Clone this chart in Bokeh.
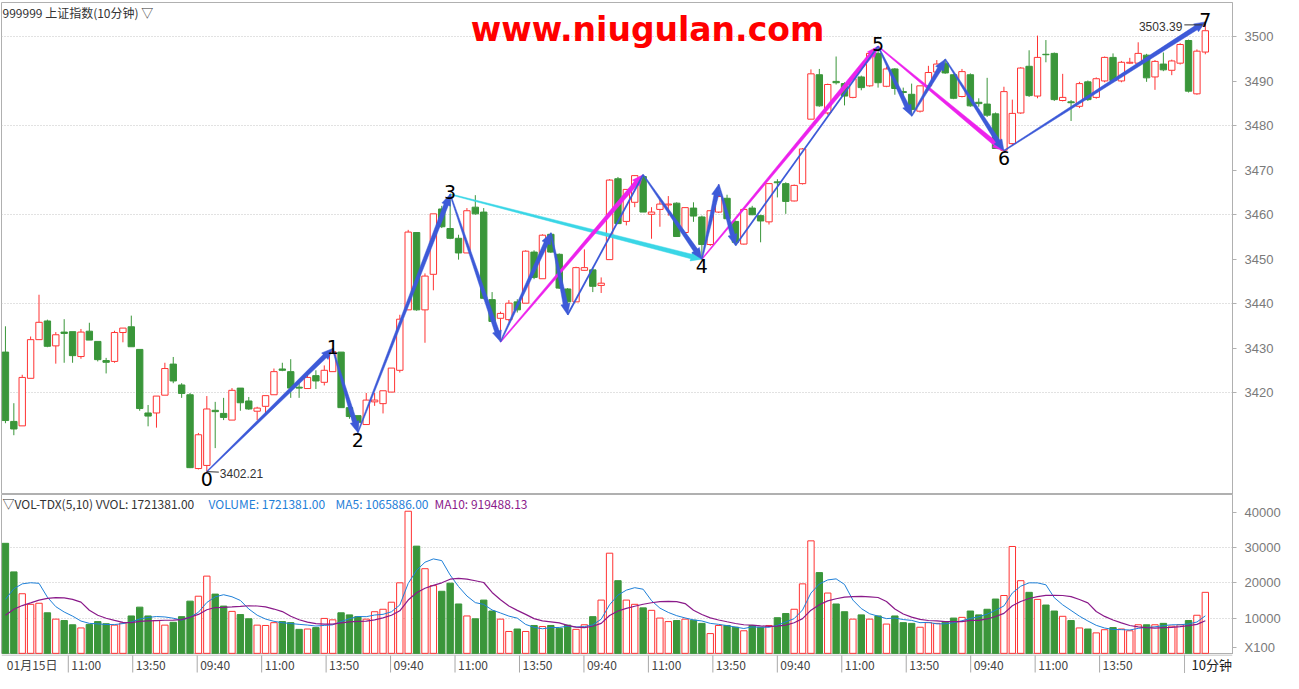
import math
import pandas as pd
from bokeh.plotting import figure
from bokeh.layouts import column
from bokeh.models import ColumnDataSource, FixedTicker, NumeralTickFormatter, Label, Range1d
from bokeh.core.properties import value
from bokeh.embed import file_html
from bokeh.resources import INLINE

# ---------------- data (10-minute bars, 6 sessions) ----------------
opens = [3429.1, 3413.5, 3412.5, 3423.2, 3431.9, 3436.1, 3430.5, 3433.6, 3433.7, 3428.1,
         3433.8, 3431.5, 3427.2, 3427.0, 3433.5, 3434.8, 3429.7, 3415.4, 3415.4, 3419.4,
         3426.4, 3421.7, 3419.5, 3402.9, 3403.6, 3416.0, 3415.3, 3413.8, 3421.0, 3418.1,
         3415.8, 3416.9, 3419.5, 3425.3, 3424.7, 3421.2, 3420.9, 3423.8, 3422.3, 3424.7,
         3429.1, 3416.6, 3414.8, 3412.8, 3417.9, 3417.5, 3420.1, 3425.0, 3438.6, 3456.0,
         3438.6, 3446.6, 3461.3, 3456.9, 3454.7, 3451.4, 3461.7, 3460.6, 3440.9, 3436.7,
         3436.4, 3440.4, 3440.1, 3451.6, 3445.6, 3455.6, 3451.1, 3443.3, 3440.4, 3447.5,
         3447.6, 3444.1, 3449.9, 3468.1, 3458.5, 3462.8, 3468.6, 3460.1, 3461.2, 3462.2,
         3462.6, 3456.0, 3461.5, 3459.5, 3453.3, 3460.6, 3463.7, 3458.5, 3453.4, 3461.5,
         3459.8, 3458.4, 3467.4, 3467.0, 3463.1, 3467.0, 3481.5, 3491.5, 3482.9, 3490.0,
         3489.5, 3486.4, 3491.0, 3489.0, 3496.3, 3488.9, 3492.8, 3487.7, 3487.1, 3483.3,
         3489.0, 3492.1, 3494.1, 3491.5, 3486.6, 3491.5, 3485.3, 3484.9, 3482.7, 3474.5,
         3476.0, 3482.9, 3493.4, 3486.7, 3496.1, 3496.3, 3485.7, 3485.4, 3484.4, 3489.9,
         3486.4, 3490.1, 3495.4, 3490.1, 3494.1, 3494.1, 3495.9, 3491.0, 3493.9, 3492.5,
         3494.1, 3499.2, 3487.2, 3496.6]
highs = [3434.9, 3417.6, 3424.0, 3432.6, 3442.0, 3436.4, 3433.6, 3436.5, 3433.7, 3434.3,
         3435.7, 3431.5, 3427.8, 3433.9, 3434.5, 3437.3, 3429.7, 3417.2, 3419.2, 3426.7,
         3428.0, 3422.1, 3419.9, 3410.9, 3419.2, 3417.9, 3418.8, 3421.0, 3421.0, 3419.0,
         3416.8, 3419.3, 3425.4, 3426.7, 3427.5, 3422.1, 3424.0, 3425.0, 3426.1, 3429.9,
         3429.1, 3416.6, 3414.8, 3419.9, 3419.9, 3420.4, 3425.5, 3437.5, 3456.6, 3456.0,
         3446.8, 3460.2, 3462.0, 3464.6, 3455.5, 3461.5, 3464.4, 3461.5, 3442.6, 3438.2,
         3440.8, 3441.0, 3452.0, 3452.0, 3455.6, 3455.9, 3451.3, 3443.5, 3448.3, 3452.2,
         3448.0, 3445.9, 3468.0, 3468.5, 3465.7, 3468.9, 3469.0, 3461.7, 3463.5, 3464.2,
         3462.8, 3461.7, 3462.8, 3459.8, 3461.0, 3466.8, 3464.5, 3458.7, 3461.4, 3462.0,
         3460.0, 3467.1, 3468.0, 3467.3, 3466.8, 3475.0, 3492.7, 3492.8, 3489.5, 3495.6,
         3489.8, 3491.5, 3491.3, 3496.5, 3497.9, 3493.3, 3493.0, 3488.6, 3489.5, 3489.0,
         3493.5, 3494.8, 3495.0, 3491.7, 3492.8, 3491.8, 3486.2, 3490.8, 3483.0, 3488.8,
         3485.9, 3493.2, 3497.0, 3500.3, 3499.3, 3496.5, 3491.7, 3485.8, 3489.9, 3490.2,
         3490.9, 3495.6, 3496.3, 3494.6, 3495.3, 3498.8, 3496.2, 3494.8, 3496.5, 3494.9,
         3498.6, 3499.4, 3497.2, 3503.39]
lows = [3413.1, 3410.4, 3412.5, 3423.2, 3431.9, 3430.2, 3426.5, 3426.7, 3426.7, 3427.6,
        3431.8, 3427.0, 3424.3, 3426.7, 3431.3, 3430.3, 3415.9, 3412.4, 3412.1, 3419.4,
        3422.1, 3418.8, 3403.0, 3402.7, 3402.21, 3407.5, 3413.8, 3413.8, 3415.9, 3416.1,
        3413.8, 3414.9, 3419.5, 3424.8, 3418.8, 3418.8, 3420.9, 3420.8, 3421.6, 3424.7,
        3416.6, 3414.1, 3411.0, 3412.8, 3417.0, 3415.3, 3420.1, 3424.5, 3438.6, 3438.4,
        3431.2, 3443.0, 3457.0, 3454.5, 3449.9, 3451.4, 3460.0, 3441.0, 3436.0, 3431.4,
        3436.0, 3438.0, 3440.1, 3445.5, 3445.6, 3451.4, 3443.3, 3437.5, 3440.4, 3447.4,
        3442.6, 3442.4, 3449.9, 3458.0, 3457.6, 3461.7, 3460.6, 3454.6, 3457.3, 3459.8,
        3455.0, 3455.4, 3458.4, 3450.0, 3453.0, 3460.4, 3459.0, 3453.1, 3453.3, 3459.9,
        3453.8, 3457.8, 3463.9, 3460.2, 3463.0, 3466.8, 3481.5, 3484.3, 3482.5, 3489.3,
        3484.6, 3486.2, 3488.0, 3488.8, 3488.6, 3488.7, 3487.0, 3486.2, 3482.2, 3483.0,
        3488.8, 3491.8, 3491.7, 3486.0, 3486.4, 3484.3, 3484.3, 3482.0, 3474.9, 3474.4,
        3475.6, 3482.7, 3486.5, 3486.2, 3494.3, 3485.6, 3485.5, 3481.1, 3484.0, 3485.6,
        3486.1, 3489.8, 3490.0, 3489.8, 3493.9, 3493.9, 3489.9, 3488.1, 3492.3, 3491.4,
        3493.8, 3487.5, 3487.0, 3496.1]
closes = [3413.7, 3411.8, 3423.4, 3431.9, 3435.8, 3430.4, 3433.0, 3433.3, 3428.3, 3433.6,
          3431.8, 3427.4, 3426.8, 3433.5, 3434.5, 3430.3, 3416.4, 3414.7, 3419.2, 3425.4,
          3422.6, 3419.8, 3403.1, 3410.5, 3416.3, 3415.7, 3414.4, 3420.5, 3417.7, 3416.3,
          3416.5, 3419.3, 3424.7, 3425.0, 3421.0, 3421.0, 3423.4, 3422.6, 3425.0, 3429.2,
          3416.6, 3414.6, 3413.3, 3418.3, 3418.3, 3420.4, 3425.5, 3436.5, 3456.1, 3438.6,
          3446.2, 3460.2, 3457.3, 3454.7, 3451.4, 3460.9, 3460.2, 3441.2, 3436.0, 3437.8,
          3440.1, 3438.6, 3451.8, 3445.9, 3455.4, 3451.6, 3443.5, 3440.4, 3448.1, 3448.1,
          3443.9, 3444.6, 3467.8, 3458.0, 3465.7, 3468.8, 3460.6, 3460.6, 3462.4, 3462.4,
          3455.1, 3461.6, 3459.7, 3453.3, 3460.9, 3464.1, 3459.1, 3453.8, 3461.2, 3460.0,
          3458.6, 3467.0, 3467.2, 3463.0, 3466.6, 3474.8, 3491.7, 3484.5, 3489.3, 3489.7,
          3486.7, 3490.6, 3488.6, 3496.3, 3489.7, 3492.8, 3488.4, 3487.5, 3483.7, 3489.0,
          3492.0, 3493.9, 3491.9, 3486.2, 3492.2, 3484.5, 3485.0, 3482.4, 3474.9, 3487.7,
          3482.8, 3493.0, 3486.8, 3495.4, 3496.0, 3485.9, 3486.4, 3485.2, 3489.5, 3485.9,
          3490.6, 3495.4, 3490.2, 3494.3, 3494.3, 3496.3, 3490.8, 3494.5, 3492.6, 3494.6,
          3498.3, 3487.8, 3496.8, 3501.4]
volumes = [31200, 23100, 16900, 13900, 14200, 11500, 9700, 9300, 8100, 7200,
           8200, 9000, 8400, 8000, 8600, 10600, 13100, 10600, 9300, 8000,
           8800, 10400, 14800, 16200, 21900, 16800, 13400, 11900, 11000, 9800,
           8000, 7900, 8700, 9000, 8700, 6800, 6900, 7300, 9900, 9500,
           11500, 10900, 10400, 9700, 11800, 12500, 14500, 20000, 40300, 30400,
           24000, 19200, 17600, 19900, 14000, 10600, 9800, 15100, 12000, 9700,
           6200, 6900, 6200, 7900, 7600, 7900, 7100, 8000, 6800, 8100,
           10400, 15100, 28400, 20600, 15100, 13900, 12900, 12200, 10000, 9000,
           9300, 9700, 9400, 8500, 5600, 7900, 7900, 7400, 6400, 7900,
           7400, 7900, 10100, 11300, 12500, 19700, 31900, 22900, 17100, 14000,
           11800, 9700, 10900, 9700, 10600, 8300, 10600, 8700, 8500, 7400,
           8700, 8500, 8800, 10000, 10200, 12000, 10900, 12500, 15400, 16400,
           30300, 20600, 17300, 15300, 13700, 12000, 10500, 9300, 7200, 6900,
           5800, 6700, 7300, 6900, 6400, 8100, 8100, 8100, 8500, 7700,
           8100, 9300, 10800, 17300]
prev_volumes = [6000, 6500, 6200, 6300, 6500, 8000, 10000, 12300, 15000]

time_tick_bars = [0, 8, 16, 24, 32, 40, 48, 56, 64, 72, 80, 88, 96, 104, 112, 120, 128, 136]
time_tick_labels = ["01月15日", "11:00", "13:50", "09:40", "11:00", "13:50", "09:40", "11:00", "13:50",
                    "09:40", "11:00", "13:50", "09:40", "11:00", "13:50", "09:40", "11:00", "13:50"]
price_ticks = [3420, 3430, 3440, 3450, 3460, 3470, 3480, 3490, 3500]
price_grid = [3420, 3440, 3460, 3480, 3500]
vol_ticks = [10000, 20000, 30000, 40000]
vol_unit_tick = 1700
vol_grid = [10000, 20000, 30000]

header_main = "999999 上证指数(10分钟) ▽"
header_vol = ["▽VOL-TDX(5,10) VVOL: 1721381.00", "VOLUME: 1721381.00", "MA5: 1065886.00", "MA10: 919488.13"]

zz_bars = [24, 39, 42, 53, 83, 104, 119, 143]
zz_kinds = ["L", "H", "L", "H", "L", "H", "L", "H"]
zz_texts = ["0", "1", "2", "3", "4", "5", "6", "7"]

blue_wedges = [(24, "L", 39, "H"), (39, "H", 42, "L"), (42, "L", 53, "H"), (53, "H", 59, "L"),
               (59, "L", 65, "H"), (65, "H", 67, "L"), (76, "H", 83, "L"), (83, "L", 85, "H"),
               (85, "H", 87, "L"), (104, "H", 108, "L"), (108, "L", 112, "H"), (112, "H", 119, "L"),
               (119, "L", 143, "H")]
blue_thin = [(67, "L", 76, "H"), (87, "L", 104, "H")]
magenta_wedges = [(59, "L", 76, "H"), (83, "L", 104, "H"), (104, "H", 119, "L")]
cyan_wedges = [(53, "H", 83, "L")]

# ---------------- layout constants ----------------
W = 1283
EXTRA = 4
H1, H2, H3 = 490 + EXTRA, 164 - EXTRA, 19
TOP1 = 2
BL, BR = 1, 50
FRAME_W = W - BL - BR
FH1 = H1 - TOP1
X0, X1 = -0.47, 146.24
P1 = 3507.75
KY = 488 / (P1 - 3397.96)
P0 = 3397.96 - EXTRA / KY
V0 = -330
KYV = 164 / (46180 - V0)
V1 = 46180 - EXTRA / KYV
KX = FRAME_W / (X1 - X0)

GRID = "#c4c4c4"
AXIS = "#b0b0b0"
LBL = "#7a7a7a"
RED = "#ff3333"
GREEN = "#3a963a"
BLUE = "#3d5ad8"
MAGENTA = "#ec22ec"
CYAN = "#3ad6e6"
MA5C = "#1f80d8"
MA10C = "#8a1a8a"
TXT = "#333333"

n = len(opens)
idx = list(range(n))
up = [c >= o for o, c in zip(opens, closes)]
line_cols = [RED if u else GREEN for u in up]
fill_cols = ["white" if u else GREEN for u in up]
HW = 0.38

xr = Range1d(X0, X1)


def make_fig(height, y0, y1, top, ticks, grid, fmt=None, overrides=None):
    p = figure(width=W, height=height, x_range=xr, y_range=Range1d(y0, y1),
               output_backend="svg", toolbar_location=None,
               x_axis_location=None, y_axis_location="right",
               min_border_left=BL, min_border_right=BR, min_border_top=top, min_border_bottom=0,
               outline_line_color=AXIS, background_fill_color="white", border_fill_color="white")
    p.xgrid.visible = False
    ax = p.yaxis[0]
    ax.ticker = FixedTicker(ticks=ticks)
    if fmt is not None:
        ax.formatter = fmt
    if overrides:
        ax.major_label_overrides = overrides
    ax.axis_line_color = AXIS
    ax.major_tick_line_color = AXIS
    ax.major_tick_out = 4
    ax.major_tick_in = 0
    ax.minor_tick_line_color = None
    ax.major_label_text_color = LBL
    ax.major_label_text_font = "Liberation Sans"
    ax.major_label_text_font_size = "13px"
    ax.major_label_standoff = 8
    p.ygrid.ticker = FixedTicker(ticks=grid)
    p.ygrid.grid_line_color = GRID
    p.ygrid.grid_line_dash = "1 2"
    return p


# ---------------- main candlestick panel ----------------
p1 = make_fig(H1, P0, P1, TOP1, price_ticks, price_grid)

src = ColumnDataSource(dict(
    x=idx, left=[i - HW for i in idx], right=[i + HW for i in idx],
    top=[max(o, c) for o, c in zip(opens, closes)],
    bottom=[min(o, c) for o, c in zip(opens, closes)],
    high=highs, low=lows, line=line_cols, fill=fill_cols))
p1.segment(x0="x", y0="high", x1="x", y1="top", line_color="line", line_width=1, source=src)
p1.segment(x0="x", y0="bottom", x1="x", y1="low", line_color="line", line_width=1, source=src)
p1.quad(left="left", right="right", top="top", bottom="bottom",
        fill_color="fill", line_color="line", line_width=1, source=src)


def yval(i, k):
    return highs[i] if k == "H" else lows[i]


def wedge(i0, k0, i1, k1, w0=1.0, w1=4.6, head_len=11.0, head_hw=4.6):
    xa, ya = i0 * KX, yval(i0, k0) * KY
    xb, yb = i1 * KX, yval(i1, k1) * KY
    dx, dy = xb - xa, yb - ya
    L = math.hypot(dx, dy)
    ux, uy = dx / L, dy / L
    nx, ny = -uy, ux
    cx, cy = xa + ux * (L - head_len), ya + uy * (L - head_len)
    pts = [(xa + nx * w0 / 2, ya + ny * w0 / 2),
           (cx + nx * w1 / 2, cy + ny * w1 / 2),
           (cx + nx * head_hw, cy + ny * head_hw),
           (xb, yb),
           (cx - nx * head_hw, cy - ny * head_hw),
           (cx - nx * w1 / 2, cy - ny * w1 / 2),
           (xa - nx * w0 / 2, ya - ny * w0 / 2)]
    return [q[0] / KX for q in pts], [q[1] / KY for q in pts]


def draw_wedges(lst, color):
    xs, ys = [], []
    for a in lst:
        px, py = wedge(*a)
        xs.append(px)
        ys.append(py)
    p1.patches(xs, ys, fill_color=color, line_color=color, line_width=0.5)


draw_wedges(cyan_wedges, CYAN)
draw_wedges(magenta_wedges, MAGENTA)
p1.segment(x0=[a[0] for a in blue_thin], y0=[yval(a[0], a[1]) for a in blue_thin],
           x1=[a[2] for a in blue_thin], y1=[yval(a[2], a[3]) for a in blue_thin],
           line_color=BLUE, line_width=1.8)
draw_wedges(blue_wedges, BLUE)

# zigzag point numbers
above = [j for j, k in enumerate(zz_kinds) if k == "H"]
below = [j for j, k in enumerate(zz_kinds) if k == "L"]
p1.text(x=[zz_bars[j] for j in above], y=[yval(zz_bars[j], "H") for j in above],
        text=[zz_texts[j] for j in above], text_align="center", text_baseline="alphabetic",
        y_offset=-2, text_font=value("DejaVu Sans"), text_font_size="19px", text_color="black")
p1.text(x=[zz_bars[j] for j in below], y=[yval(zz_bars[j], "L") for j in below],
        text=[zz_texts[j] for j in below], text_align="center", text_baseline="top",
        y_offset=0, text_font=value("DejaVu Sans"), text_font_size="19px", text_color="black")

# extreme value annotations
lo_i = min(idx, key=lambda i: lows[i])
hi_i = max(idx, key=lambda i: highs[i])
p1.segment(x0=[lo_i], y0=[lows[lo_i]], x1=[lo_i + 12 / KX], y1=[lows[lo_i] - 0.5 / KY],
           line_color=TXT, line_width=1)
p1.text(x=[lo_i], y=[lows[lo_i]], text=[f"{lows[lo_i]:.2f}"], x_offset=13, y_offset=2,
        text_align="left", text_baseline="middle", text_font=value("Liberation Sans"),
        text_font_size="12px", text_color=TXT)
p1.segment(x0=[hi_i - 21 / KX], y0=[highs[hi_i] - 3 / KY], x1=[hi_i - 3 / KX], y1=[highs[hi_i] - 3 / KY],
           line_color=TXT, line_width=1)
p1.text(x=[hi_i], y=[highs[hi_i]], text=[f"{highs[hi_i]:.2f}"], x_offset=-23, y_offset=5,
        text_align="right", text_baseline="middle", text_font=value("Liberation Sans"),
        text_font_size="12px", text_color=TXT)

p1.add_layout(Label(x=1, y=FH1 - 9.5, x_units="screen", y_units="screen",
                    text=header_main, text_font="Noto Sans CJK SC",
                    text_font_size="12px", text_color=TXT, text_baseline="middle"))
p1.add_layout(Label(x=647 - BL, y=FH1 - 26.6, x_units="screen", y_units="screen",
                    text="www.niugulan.com", text_font="DejaVu Sans", text_font_style="bold",
                    text_font_size="33px", text_color="#ff0000", text_align="center",
                    text_baseline="alphabetic"))

# ---------------- volume panel ----------------
p2 = make_fig(H2, V0, V1, 0, [vol_unit_tick] + vol_ticks, vol_grid,
              NumeralTickFormatter(format="0"), {vol_unit_tick: "X100"})
vsrc = ColumnDataSource(dict(left=[i - HW for i in idx], right=[i + HW for i in idx],
                             top=volumes, bottom=[0] * n, line=line_cols, fill=fill_cols))
p2.quad(left="left", right="right", top="top", bottom="bottom",
        fill_color="fill", line_color="line", line_width=1, source=vsrc)

allv = pd.Series(prev_volumes + volumes, dtype=float)
ma5 = allv.rolling(5).mean().iloc[len(prev_volumes):].tolist()
ma10 = allv.rolling(10).mean().iloc[len(prev_volumes):].tolist()
p2.line(idx, ma5, line_color=MA5C, line_width=1)
p2.line(idx, ma10, line_color=MA10C, line_width=1.2)

FH2 = H2
hdr_x = [1, 207, 334, 433]
hdr_c = [TXT, MA5C, MA5C, "#8b1a8b"]
for hx, ht, hc in zip(hdr_x, header_vol, hdr_c):
    p2.add_layout(Label(x=hx, y=FH2 - 8.5, x_units="screen", y_units="screen", text=ht,
                        text_font="Noto Sans CJK SC", text_font_size="12px", text_color=hc,
                        text_baseline="middle"))

# ---------------- time axis strip ----------------
x3_0 = X0 - BL / KX
x3_1 = x3_0 + W / KX
p3 = figure(width=W, height=H3, x_range=Range1d(x3_0, x3_1), y_range=Range1d(0, H3),
            output_backend="svg", toolbar_location=None,
            x_axis_location=None, y_axis_location=None, min_border=0,
            outline_line_color=None, background_fill_color="white", border_fill_color="white")
p3.grid.visible = False
p3.segment(x0=[x3_0], y0=[H3 - 0.5], x1=[x3_1], y1=[H3 - 0.5], line_color=AXIS, line_width=1)
p3.segment(x0=[X1], y0=[0], x1=[X1], y1=[H3], line_color=AXIS, line_width=1)
sep = [b - 0.3 for b in time_tick_bars[1:]]
p3.segment(x0=sep, y0=[1] * len(sep), x1=sep, y1=[H3 - 1] * len(sep), line_color="#a8a8a8", line_width=1)
p3.text(x=[b - 0.3 for b in time_tick_bars], y=[H3 / 2 - 0.5] * len(time_tick_bars),
        text=time_tick_labels, x_offset=3, text_align="left", text_baseline="middle",
        text_font=value("Noto Sans CJK SC"), text_font_size="12px", text_color="#444444")
p3.text(x=[X1], y=[H3 / 2 - 0.5], text=["10分钟"], x_offset=7, text_align="left",
        text_baseline="middle", text_font=value("Noto Sans CJK SC"), text_font_size="13px",
        text_color="#222222")

layout = column(p1, p2, p3, spacing=0)
open("out.html", "w").write(file_html(layout, INLINE))
